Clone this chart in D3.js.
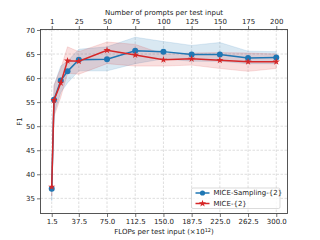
<!DOCTYPE html>
<html>
<head>
<meta charset="utf-8">
<script src="https://cdn.jsdelivr.net/npm/d3@7"></script>
<style>
  body { margin: 0; background: #fff; }
  text { font-family: "DejaVu Sans", sans-serif; }
</style>
</head>
<body>
<div id="chart"></div>
<script>
// data
var flops = [1.5, 4.5, 13.5, 22.5, 37.5, 75, 112.5, 150, 187.5, 225, 262.5, 300];
var samplingF1 = [37.0, 55.5, 59.5, 61.4, 63.8, 63.9, 65.7, 65.5, 64.9, 64.9, 64.2, 64.3];
var samplingLo = [34.5, 52.5, 57.0, 59.0, 61.5, 61.5, 63.0, 64.0, 63.5, 63.5, 63.0, 63.0];
var samplingHi = [39.5, 58.5, 62.5, 63.5, 66.0, 66.5, 68.5, 67.6, 66.8, 67.4, 65.6, 65.5];
var miceF1 = [37.4, 55.4, 59.0, 63.6, 63.5, 65.8, 64.8, 63.8, 64.0, 63.7, 63.4, 63.4];
var miceLo = [35.5, 52.0, 56.0, 61.0, 60.8, 63.0, 62.5, 62.5, 62.7, 62.0, 61.4, 62.0];
var miceHi = [39.3, 58.5, 62.0, 66.5, 65.5, 67.5, 67.0, 65.0, 65.2, 65.3, 65.2, 65.0];
var bottomTicks = [1.5, 37.5, 75, 112.5, 150, 187.5, 225, 262.5, 300];
var topTicks = [1, 25, 50, 75, 100, 125, 150, 175, 200];
var yTicks = [35, 40, 45, 50, 55, 60, 65, 70];
var seriesNames = ["MICE-Sampling-{2}", "MICE-{2}"];

var W = 320, H = 240;
var margin = {top: 29.5, right: 32.5, bottom: 26.5, left: 40.5},
    width = W - margin.left - margin.right,
    height = H - margin.top - margin.bottom;

var svg = d3.select("#chart").append("svg")
    .attr("width", W)
    .attr("height", H);
var g = svg.append("g")
    .attr("transform", "translate(" + margin.left + "," + margin.top + ")");

var x = d3.scaleLinear().domain([-13.43, 314.93]).range([0, width]);
var xTop = d3.scaleLinear().domain([-8.95, 209.95]).range([0, width]);
var y = d3.scaleLinear().domain([31.85, 70.1]).range([height, 0]);

// grid
g.selectAll(".vgrid").data(bottomTicks).enter().append("line")
    .attr("x1", function(d) { return x(d); }).attr("x2", function(d) { return x(d); })
    .attr("y1", 0).attr("y2", height)
    .attr("stroke", "#d0d0d0").attr("stroke-width", 0.7).attr("stroke-dasharray", "2.5,1.5");
g.selectAll(".hgrid").data(yTicks).enter().append("line")
    .attr("x1", 0).attr("x2", width)
    .attr("y1", function(d) { return y(d); }).attr("y2", function(d) { return y(d); })
    .attr("stroke", "#d0d0d0").attr("stroke-width", 0.7).attr("stroke-dasharray", "2.5,1.5");

var blue = "#1f77b4", red = "#d62728";

function band(lo, hi) {
    return d3.area()
        .x(function(d, i) { return x(flops[i]); })
        .y0(function(d, i) { return y(lo[i]); })
        .y1(function(d, i) { return y(hi[i]); })(flops);
}
g.append("path").attr("d", band(samplingLo, samplingHi))
    .attr("fill", blue).attr("fill-opacity", 0.17)
    .attr("stroke", blue).attr("stroke-opacity", 0.2).attr("stroke-width", 0.7);
g.append("path").attr("d", band(miceLo, miceHi))
    .attr("fill", red).attr("fill-opacity", 0.15)
    .attr("stroke", red).attr("stroke-opacity", 0.2).attr("stroke-width", 0.7);

var line = d3.line()
    .x(function(d, i) { return x(flops[i]); })
    .y(function(d) { return y(d); });

g.append("path").attr("d", line(samplingF1))
    .attr("fill", "none").attr("stroke", blue).attr("stroke-width", 1.5);
g.selectAll(".dot").data(samplingF1).enter().append("circle")
    .attr("cx", function(d, i) { return x(flops[i]); })
    .attr("cy", function(d) { return y(d); })
    .attr("r", 3).attr("fill", blue);

g.append("path").attr("d", line(miceF1))
    .attr("fill", "none").attr("stroke", red).attr("stroke-width", 1.5);
var star = d3.symbol().type(d3.symbolStar).size(16);
g.selectAll(".star").data(miceF1).enter().append("path")
    .attr("d", star)
    .attr("transform", function(d, i) { return "translate(" + x(flops[i]) + "," + y(d) + ")"; })
    .attr("fill", red);

// axes
var xAxis = g.append("g")
    .attr("transform", "translate(0," + height + ")")
    .call(d3.axisBottom(x).tickValues(bottomTicks).tickFormat(d3.format(".1f")).tickSize(3.5).tickPadding(2));
var xAxisTop = g.append("g")
    .call(d3.axisTop(xTop).tickValues(topTicks).tickFormat(d3.format("d")).tickSize(3.5).tickPadding(2));
var yAxis = g.append("g")
    .call(d3.axisLeft(y).tickValues(yTicks).tickSize(3.5).tickPadding(2));
[xAxis, xAxisTop, yAxis].forEach(function(a) {
    a.select(".domain").remove();
    a.selectAll("text").style("font-size", "7px").attr("fill", "#222");
    a.selectAll("line").attr("stroke", "#333").attr("stroke-width", 0.7);
});

// frame
g.append("rect").attr("width", width).attr("height", height)
    .attr("fill", "none").attr("stroke", "#444").attr("stroke-width", 0.9);

// labels
svg.append("text")
    .attr("x", margin.left + width / 2).attr("y", 14.5)
    .style("text-anchor", "middle").style("font-size", "7px").attr("fill", "#222")
    .text("Number of prompts per test input");
var xl = svg.append("text")
    .attr("x", margin.left + width / 2).attr("y", 234)
    .style("text-anchor", "middle").style("font-size", "7px").attr("fill", "#222");
xl.append("tspan").text("FLOPs per test input (\u00d710");
xl.append("tspan").attr("dy", -2.5).style("font-size", "5px").text("12");
xl.append("tspan").attr("dy", 2.5).text(")");
svg.append("text")
    .attr("transform", "translate(22," + (margin.top + height / 2) + ") rotate(-90)")
    .style("text-anchor", "middle").style("font-size", "7px").attr("fill", "#222")
    .text("F1");

// legend
var lg = svg.append("g").attr("transform", "translate(191.5,188)");
lg.append("rect").attr("width", 88.5).attr("height", 20.5).attr("rx", 1.5)
    .attr("fill", "#fff").attr("fill-opacity", 0.8).attr("stroke", "#ccc").attr("stroke-width", 0.7);
[blue, red].forEach(function(c, i) {
    var yy = 5 + i * 10.5;
    lg.append("line").attr("x1", 4).attr("x2", 18).attr("y1", yy).attr("y2", yy)
        .attr("stroke", c).attr("stroke-width", 1.5);
    if (i === 0) {
        lg.append("circle").attr("cx", 11).attr("cy", yy).attr("r", 2.6).attr("fill", c);
    } else {
        lg.append("path").attr("d", star).attr("transform", "translate(11," + yy + ")").attr("fill", c);
    }
    lg.append("text").attr("x", 22).attr("y", yy).attr("dy", "0.35em")
        .style("font-size", "7px").attr("fill", "#222").text(seriesNames[i]);
});
</script>
</body>
</html>
